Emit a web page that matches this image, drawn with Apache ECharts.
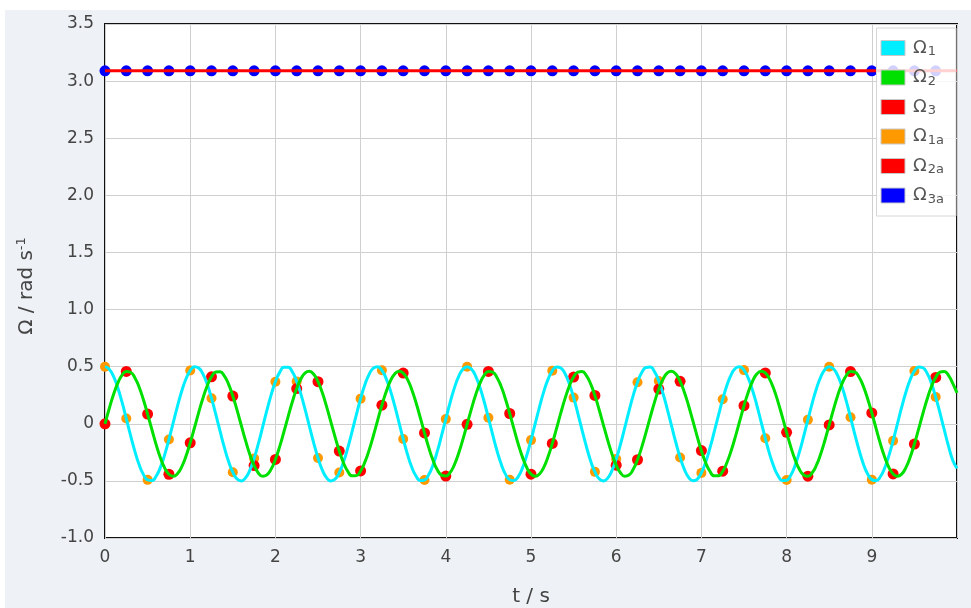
<!DOCTYPE html>
<html>
<head>
<meta charset="utf-8">
<script src="https://cdn.jsdelivr.net/npm/echarts@6/dist/echarts.min.js"></script>
<style>
  html, body { margin: 0; padding: 0; background: #ffffff; }
  #panel { position: absolute; left: 5px; top: 10px; width: 966px; height: 598px; background: #eef1f5; }
  #chart { position: absolute; left: 0; top: 0; width: 971px; height: 608px; }
</style>
</head>
<body>
<div id="panel"></div>
<div id="chart"></div>
<script>
// ---- data ----
const tCurve = [0,0.05,0.1,0.15,0.2,0.25,0.3,0.35,0.4,0.45,0.5,0.55,0.6,0.65,0.7,0.75,0.8,0.85,0.9,0.95,
1,1.05,1.1,1.15,1.2,1.25,1.3,1.35,1.4,1.45,1.5,1.55,1.6,1.65,1.7,1.75,1.8,1.85,1.9,1.95,
2,2.05,2.1,2.15,2.2,2.25,2.3,2.35,2.4,2.45,2.5,2.55,2.6,2.65,2.7,2.75,2.8,2.85,2.9,2.95,
3,3.05,3.1,3.15,3.2,3.25,3.3,3.35,3.4,3.45,3.5,3.55,3.6,3.65,3.7,3.75,3.8,3.85,3.9,3.95,
4,4.05,4.1,4.15,4.2,4.25,4.3,4.35,4.4,4.45,4.5,4.55,4.6,4.65,4.7,4.75,4.8,4.85,4.9,4.95,
5,5.05,5.1,5.15,5.2,5.25,5.3,5.35,5.4,5.45,5.5,5.55,5.6,5.65,5.7,5.75,5.8,5.85,5.9,5.95,
6,6.05,6.1,6.15,6.2,6.25,6.3,6.35,6.4,6.45,6.5,6.55,6.6,6.65,6.7,6.75,6.8,6.85,6.9,6.95,
7,7.05,7.1,7.15,7.2,7.25,7.3,7.35,7.4,7.45,7.5,7.55,7.6,7.65,7.7,7.75,7.8,7.85,7.9,7.95,
8,8.05,8.1,8.15,8.2,8.25,8.3,8.35,8.4,8.45,8.5,8.55,8.6,8.65,8.7,8.75,8.8,8.85,8.9,8.95,
9,9.05,9.1,9.15,9.2,9.25,9.3,9.35,9.4,9.45,9.5,9.55,9.6,9.65,9.7,9.75,9.8,9.85,9.9,9.95,
10];
const omega1 = [0.500,0.478,0.415,0.316,0.189,0.046,-0.101,-0.239,-0.357,-0.443,-0.491,-0.497,-0.459,-0.382,-0.272,-0.138,0.008,0.153,0.285,0.392,
0.466,0.499,0.488,0.435,0.345,0.224,0.084,-0.063,-0.205,-0.329,-0.424,-0.483,-0.500,-0.473,-0.406,-0.304,-0.174,-0.030,0.117,0.253,
0.368,0.450,0.494,0.495,0.453,0.371,0.258,0.122,-0.025,-0.169,-0.299,-0.403,-0.472,-0.500,-0.485,-0.428,-0.333,-0.210,-0.068,0.079,
0.220,0.341,0.433,0.487,0.499,0.468,0.396,0.290,0.158,0.013,-0.133,-0.267,-0.379,-0.457,-0.496,-0.492,-0.445,-0.360,-0.242,-0.104,
0.041,0.184,0.312,0.413,0.477,0.500,0.480,0.418,0.320,0.195,0.052,-0.095,-0.234,-0.353,-0.441,-0.490,-0.497,-0.462,-0.386,-0.277,
-0.143,0.003,0.148,0.281,0.389,0.464,0.498,0.489,0.438,0.349,0.230,0.090,-0.057,-0.199,-0.325,-0.422,-0.482,-0.500,-0.476,-0.410,
-0.309,-0.181,-0.036,0.111,0.249,0.364,0.448,0.493,0.496,0.455,0.375,0.263,0.127,-0.019,-0.164,-0.294,-0.399,-0.470,-0.499,-0.486,
-0.429,-0.336,-0.213,-0.072,0.074,0.215,0.337,0.430,0.486,0.499,0.470,0.399,0.294,0.164,0.019,-0.127,-0.263,-0.375,-0.455,-0.496,
-0.494,-0.449,-0.364,-0.248,-0.111,0.036,0.179,0.307,0.409,0.475,0.500,0.481,0.421,0.325,0.200,0.057,-0.090,-0.229,-0.349,-0.438,
-0.489,-0.498,-0.464,-0.389,-0.281,-0.148,-0.003,0.143,0.276,0.385,0.462,0.498,0.490,0.441,0.353,0.234,0.095,-0.052,-0.195,-0.320,
-0.390];
const omega2 = [0,0.134,0.256,0.356,0.426,0.458,0.451,0.404,0.322,0.213,0.085,-0.050,-0.182,-0.297,-0.386,-0.442,-0.460,-0.438,-0.378,-0.285,
-0.167,-0.035,0.100,0.226,0.333,0.411,0.453,0.456,0.420,0.347,0.243,0.119,-0.015,-0.148,-0.268,-0.365,-0.431,-0.459,-0.447,-0.397,
-0.312,-0.200,-0.070,0.065,0.195,0.308,0.394,0.446,0.459,0.433,0.369,0.273,0.152,0.019,-0.114,-0.239,-0.343,-0.417,-0.456,-0.454,
-0.413,-0.336,-0.231,-0.105,0.030,0.163,0.281,0.375,0.436,0.460,0.444,0.389,0.300,0.186,0.055,-0.080,-0.209,-0.320,-0.403,-0.450,
-0.458,-0.428,-0.359,-0.260,-0.139,-0.005,0.129,0.252,0.353,0.424,0.458,0.452,0.406,0.326,0.217,0.090,-0.045,-0.177,-0.292,-0.383,
-0.441,-0.460,-0.439,-0.381,-0.289,-0.172,-0.040,0.095,0.222,0.330,0.409,0.452,0.457,0.422,0.350,0.247,0.123,-0.011,-0.143,-0.264,
-0.362,-0.429,-0.459,-0.449,-0.399,-0.315,-0.204,-0.075,0.060,0.190,0.304,0.391,0.445,0.460,0.435,0.372,0.277,0.158,0.025,-0.110,
-0.236,-0.341,-0.416,-0.455,-0.455,-0.416,-0.339,-0.234,-0.110,0.025,0.158,0.277,0.372,0.435,0.460,0.445,0.391,0.304,0.190,0.060,
-0.075,-0.204,-0.315,-0.399,-0.448,-0.459,-0.429,-0.363,-0.265,-0.144,-0.010,0.124,0.248,0.350,0.422,0.457,0.453,0.409,0.330,0.222,
0.096,-0.040,-0.173,-0.289,-0.381,-0.439,-0.460,-0.441,-0.384,-0.293,-0.177,-0.045,0.090,0.217,0.326,0.406,0.452,0.458,0.424,0.353,
0.270];
const tLine = [0, 10];
const omega3 = [3.09, 3.09];
const tDots = [0,0.25,0.5,0.75,1,1.25,1.5,1.75,2,2.25,2.5,2.75,3,3.25,3.5,3.75,4,4.25,4.5,4.75,5,5.25,5.5,5.75,6,6.25,6.5,6.75,7,7.25,7.5,7.75,8,8.25,8.5,8.75,9,9.25,9.5,9.75];
const omega1a = [0.500,0.046,-0.491,-0.137,0.466,0.224,-0.424,-0.303,0.368,0.371,-0.299,-0.427,0.220,0.468,-0.133,-0.492,0.041,0.500,0.052,-0.490,-0.143,0.464,0.229,-0.421,-0.309,0.364,0.375,-0.295,-0.430,0.215,0.470,-0.127,-0.493,0.036,0.500,0.057,-0.489,-0.148,0.462,0.234];
const omega2a = [0,0.458,0.085,-0.442,-0.167,0.411,0.243,-0.366,-0.312,0.308,0.369,-0.239,-0.413,0.163,0.444,-0.080,-0.458,-0.005,0.458,0.090,-0.441,-0.172,0.409,0.248,-0.362,-0.315,0.304,0.372,-0.235,-0.415,0.158,0.445,-0.075,-0.459,-0.010,0.457,0.095,-0.439,-0.177,0.406];
const omega3a = [3.09,3.09,3.09,3.09,3.09,3.09,3.09,3.09,3.09,3.09,3.09,3.09,3.09,3.09,3.09,3.09,3.09,3.09,3.09,3.09,3.09,3.09,3.09,3.09,3.09,3.09,3.09,3.09,3.09,3.09,3.09,3.09,3.09,3.09,3.09,3.09,3.09,3.09,3.09,3.09];
const seriesNames = ['Ω1','Ω2','Ω3','Ω1a','Ω2a','Ω3a'];
const xTicks = [0,1,2,3,4,5,6,7,8,9];

const pair = (xs, ys) => xs.map((x, i) => [x, ys[i]]);
const FONT = 'DejaVu Sans';

const chart = echarts.init(document.getElementById('chart'), null, { renderer: 'canvas' });
chart.setOption({
  animation: false,
  backgroundColor: 'transparent',
  grid: {
    left: 105, right: 14, top: 24, bottom: 70,
    containLabel: false,
    outerBoundsMode: 'none',
    show: true, backgroundColor: '#ffffff', borderColor: '#111111', borderWidth: 2
  },
  legend: {
    data: seriesNames,
    right: 15, top: 28,
    orient: 'vertical',
    icon: 'rect',
    itemWidth: 24, itemHeight: 15, itemGap: 10,
    backgroundColor: 'rgba(255,255,255,0.82)',
    borderColor: '#d6d6d6', borderWidth: 1,
    padding: [11, 12, 10, 4],
    itemStyle: { borderColor: '#c8c8c8', borderWidth: 1 },
    formatter: function (name) {
      return '{o|Ω}{s|' + name.slice(1) + '}';
    },
    textStyle: {
      color: '#555',
      fontFamily: FONT,
      rich: {
        o: { fontSize: 18, fontFamily: FONT, color: '#555', padding: [0, 0, 0, 3] },
        s: { fontSize: 13, fontFamily: FONT, color: '#555', padding: [8, 0, 0, 1] }
      }
    }
  },
  xAxis: {
    type: 'value',
    min: 0, max: 10, interval: 1,
    name: 't / s',
    nameLocation: 'middle',
    nameGap: 49,
    nameTextStyle: { fontFamily: FONT, fontSize: 20, color: '#444' },
    axisLine: { show: false },
    axisTick: { show: false },
    axisLabel: {
      showMaxLabel: false,
      margin: 11,
      fontFamily: FONT, fontSize: 17, color: '#444',
      formatter: v => (xTicks.indexOf(v) >= 0 ? String(v) : '')
    },
    splitLine: { show: true, lineStyle: { color: '#cfcfcf', width: 1 } }
  },
  yAxis: {
    type: 'value',
    min: -1, max: 3.5, interval: 0.5,
    name: 'Ω / rad s{sup|-1}',
    nameLocation: 'middle',
    nameGap: 67,
    nameRotate: 90,
    nameTextStyle: {
      fontFamily: FONT, fontSize: 20, color: '#444',
      padding: [0, 10, 0, 0],
      rich: {
        sup: { fontSize: 13, fontFamily: FONT, color: '#444', padding: [0, 0, 10, 0] }
      }
    },
    axisLine: { show: false },
    axisTick: { show: false },
    axisLabel: {
      margin: 11,
      fontFamily: FONT, fontSize: 17, color: '#444',
      formatter: v => (Math.abs(v) < 1e-9 ? '0' : v.toFixed(1))
    },
    splitLine: { show: true, lineStyle: { color: '#cfcfcf', width: 1 } }
  },
  series: [
    { name: 'Ω1', type: 'line', data: pair(tCurve, omega1), smooth: true, showSymbol: false,
      color: '#00eeff', lineStyle: { width: 3, color: '#00eeff' } },
    { name: 'Ω2', type: 'line', data: pair(tCurve, omega2), smooth: true, showSymbol: false,
      color: '#00e000', lineStyle: { width: 3, color: '#00e000' } },
    { name: 'Ω3', type: 'line', data: pair(tLine, omega3), showSymbol: false,
      color: '#ff0000', lineStyle: { width: 3, color: '#ff0000' } },
    { name: 'Ω1a', type: 'scatter', data: pair(tDots, omega1a), symbolSize: 10, clip: false,
      color: '#ff9900', itemStyle: { color: '#ff9900', opacity: 1 } },
    { name: 'Ω2a', type: 'scatter', data: pair(tDots, omega2a), symbolSize: 11, clip: false,
      color: '#ff0000', itemStyle: { color: '#ff0000', opacity: 1 } },
    { name: 'Ω3a', type: 'scatter', data: pair(tDots, omega3a), symbolSize: 11, clip: false,
      color: '#0000ff', itemStyle: { color: '#0000ff', opacity: 1 } }
  ]
});
</script>
</body>
</html>
